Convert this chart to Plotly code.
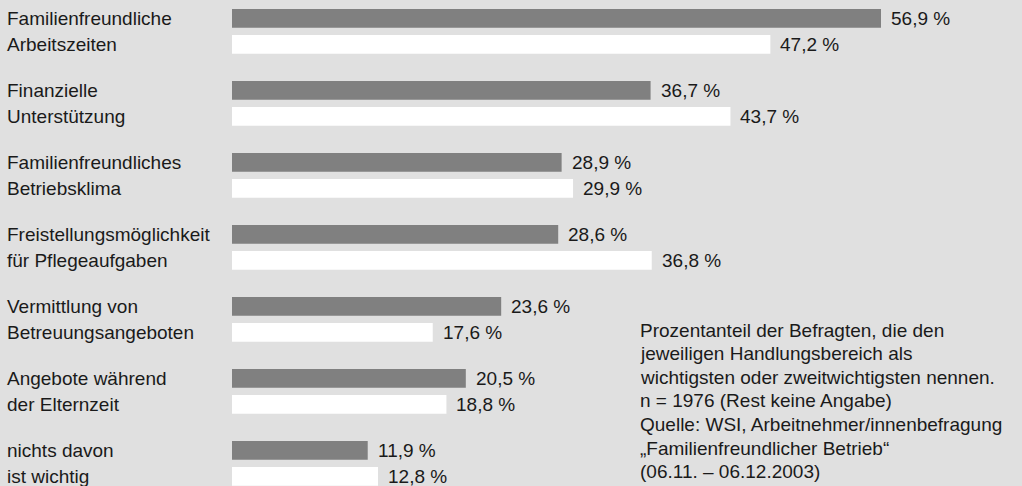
import plotly.graph_objects as go

categories = [
    ["Familienfreundliche", "Arbeitszeiten"],
    ["Finanzielle", "Unterstützung"],
    ["Familienfreundliches", "Betriebsklima"],
    ["Freistellungsmöglichkeit", "für Pflegeaufgaben"],
    ["Vermittlung von", "Betreuungsangeboten"],
    ["Angebote während", "der Elternzeit"],
    ["nichts davon", "ist wichtig"],
]
dark_values = [56.9, 36.7, 28.9, 28.6, 23.6, 20.5, 11.9]
white_values = [47.2, 43.7, 29.9, 36.8, 17.6, 18.8, 12.8]
note_lines = [
    "Prozentanteil der Befragten, die den",
    "jeweiligen Handlungsbereich als",
    "wichtigsten oder zweitwichtigsten nennen.",
    "n = 1976 (Rest keine Angabe)",
    "Quelle: WSI, Arbeitnehmer/innenbefragung",
    "„Familienfreundlicher Betrieb“",
    "(06.11. – 06.12.2003)",
]

W, H = 1022, 486
BG = "#e0e0e0"
DARK = "#808080"
FONT = "Liberation Sans"
FS = 19
TXT = "#1a1a1a"

pitch = 72.0
bar_w = 18.7 / pitch
gap = 3.65 / pitch
dark_off = -(gap + bar_w)
white_off = gap
ypos = list(range(len(categories)))

fig = go.Figure()
fig.add_trace(go.Bar(orientation="h", y=ypos, x=dark_values, base=0,
                     offset=dark_off, width=bar_w, marker=dict(color=DARK, line=dict(width=0)),
                     hoverinfo="skip"))
fig.add_trace(go.Bar(orientation="h", y=ypos, x=white_values, base=0,
                     offset=white_off, width=bar_w, marker=dict(color="#ffffff", line=dict(width=0)),
                     hoverinfo="skip"))

ann = []
dark_c = dark_off + bar_w / 2
white_c = white_off + bar_w / 2
for i, (cat, dv, wv) in enumerate(zip(categories, dark_values, white_values)):
    for line, yc in zip(cat, [i + dark_c, i + white_c]):
        ann.append(dict(x=5 / W, xref="paper", xanchor="left", y=yc, yref="y", yanchor="middle",
                        text=line, showarrow=False, font=dict(family=FONT, size=FS, color=TXT)))
    for v, yc in [(dv, i + dark_c), (wv, i + white_c)]:
        ann.append(dict(x=v, xref="x", xanchor="left", xshift=8, y=yc, yref="y", yanchor="middle",
                        text=f"{v:.1f}".replace(".", ",") + " %", showarrow=False,
                        font=dict(family=FONT, size=FS, color=TXT)))

note_top = 330
note_step = 23.6
for k, line in enumerate(note_lines):
    ann.append(dict(x=638 / W, xref="paper", xanchor="left",
                    y=1 - (note_top + k * note_step) / H, yref="paper", yanchor="middle",
                    text=line, showarrow=False, font=dict(family=FONT, size=FS, color=TXT)))

px_per = 649 / 56.9
x0 = 232
fig.update_layout(
    width=W, height=H, margin=dict(l=0, r=0, t=0, b=0),
    paper_bgcolor=BG, plot_bgcolor=BG, showlegend=False, barmode="overlay",
    xaxis=dict(range=[-x0 / px_per, (W - x0) / px_per], visible=False, fixedrange=True),
    yaxis=dict(range=[(H - 31.35) / pitch, -31.35 / pitch], visible=False, fixedrange=True),
    annotations=ann,
)
fig.write_html("out.html", config={"displayModeBar": False},
               post_script="document.body.style.margin='0';document.body.style.overflow='hidden';")
